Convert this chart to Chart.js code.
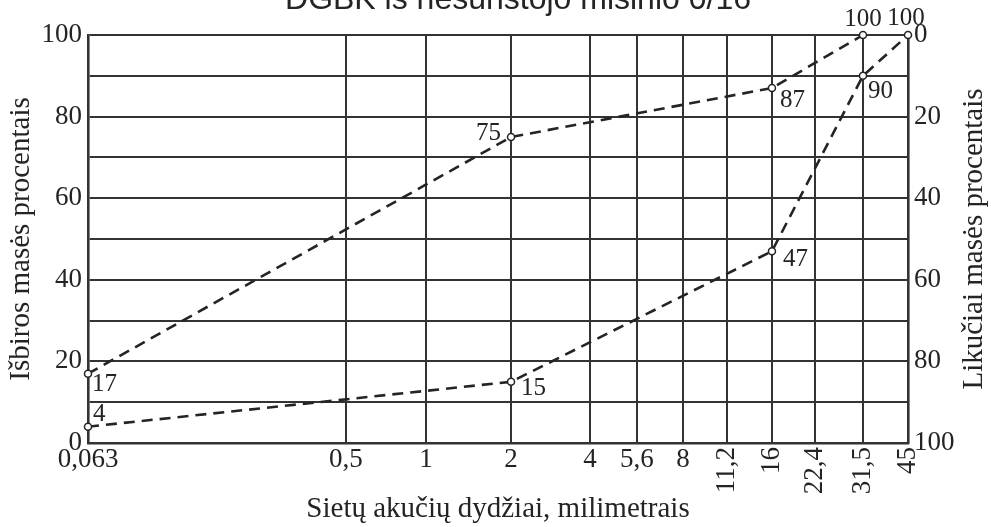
<!DOCTYPE html>
<html>
<head>
<meta charset="utf-8">
<script src="https://cdn.jsdelivr.net/npm/chart.js@4/dist/chart.umd.min.js"></script>
<style>
  html, body { margin: 0; padding: 0; background: #fff; }
  #wrap { width: 991px; height: 527px; position: relative; }
</style>
</head>
<body>
<div id="wrap"><canvas id="grading"></canvas></div>
<script>
const TITLE = 'DGBK iš nesurištojo mišinio 0/16';
const X_TITLE = 'Sietų akučių dydžiai, milimetrais';
const Y_TITLE = 'Išbiros masės procentais';
const Y2_TITLE = 'Likučiai masės procentais';

// sieve sizes (mm) and their printed labels
const SIEVES = [0.063, 0.5, 1, 2, 4, 5.6, 8, 11.2, 16, 22.4, 31.5, 45];
const SIEVE_LABELS = ['0,063', '0,5', '1', '2', '4', '5,6', '8', '11,2', '16', '22,4', '31,5', '45'];

// upper and lower grading curves (% passing)
const UPPER_SIZES = [0.063, 2, 16, 31.5];
const UPPER_PASSING = [17, 75, 87, 100];
const LOWER_SIZES = [0.063, 2, 16, 31.5, 45];
const LOWER_PASSING = [4, 15, 47, 90, 100];

// the printed sieve axis is not a clean log scale: where each sieve sits along it
const SIEVE_AXIS_POS = [0, 0.3146, 0.4122, 0.5159, 0.6122, 0.6695, 0.7256, 0.7793, 0.8341, 0.8866, 0.9451, 1];
const ROTATE_FROM = 7; // labels from 11,2 on are printed vertically

const INK = '#242424';
const GRID = '#333';
const SERIF = '"Liberation Serif", "Times New Roman", serif';

function sieveFraction(v) {
    let i = 0;
    while (i < SIEVES.length - 2 && v > SIEVES[i + 1]) i++;
    const t = Math.log(v / SIEVES[i]) / Math.log(SIEVES[i + 1] / SIEVES[i]);
    return SIEVE_AXIS_POS[i] + t * (SIEVE_AXIS_POS[i + 1] - SIEVE_AXIS_POS[i]);
}

class SieveScale extends Chart.LinearScale {
    buildTicks() {
        return SIEVES.map((value) => ({ value }));
    }
    getPixelForValue(value) {
        return this.getPixelForDecimal(sieveFraction(value));
    }
    getValueForPixel(pixel) {
        const f = this.getDecimalForPixel(pixel);
        let i = 0;
        while (i < SIEVES.length - 2 && f > SIEVE_AXIS_POS[i + 1]) i++;
        const t = (f - SIEVE_AXIS_POS[i]) / (SIEVE_AXIS_POS[i + 1] - SIEVE_AXIS_POS[i]);
        return SIEVES[i] * Math.pow(SIEVES[i + 1] / SIEVES[i], t);
    }
}
SieveScale.id = 'sieve';
SieveScale.defaults = Chart.LinearScale.defaults;
Chart.register(SieveScale);

// label placement next to each point: [dx, dy, align]
const UPPER_LABEL_POS = [[4, 11, 'left'], [-10, -4, 'right'], [8, 12, 'left'], [0, -16, 'center']];
const LOWER_LABEL_POS = [[5, -12, 'left'], [10, 7, 'left'], [11, 8, 'left'], [5, 16, 'left'], [-2, -17, 'center']];

const pairs = (xs, ys) => xs.map((x, i) => ({ x, y: ys[i] }));

const curveStyle = {
    borderColor: INK,
    borderWidth: 2.6,
    borderDash: [11, 7],
    pointRadius: 3.5,
    pointBackgroundColor: '#fff',
    pointBorderColor: INK,
    pointBorderWidth: 1.5,
    tension: 0,
    clip: false,
};

const extras = {
    id: 'extras',
    afterDraw(chart) {
        const { ctx, chartArea } = chart;
        const xs = chart.scales.x;
        ctx.save();
        ctx.fillStyle = INK;

        // title, partly cut off at the top edge like the original
        ctx.font = '32px "Liberation Sans", Arial, sans-serif';
        ctx.textAlign = 'center';
        ctx.textBaseline = 'alphabetic';
        ctx.fillText(TITLE, 518, 9);

        // right axis title reads bottom-to-top
        ctx.save();
        ctx.font = '29px ' + SERIF;
        ctx.translate(974, (chartArea.top + chartArea.bottom) / 2);
        ctx.rotate(-Math.PI / 2);
        ctx.textAlign = 'center';
        ctx.textBaseline = 'middle';
        ctx.fillText(Y2_TITLE, 0, 0);
        ctx.restore();

        // sieve labels, mixed orientation
        ctx.font = '27px ' + SERIF;
        SIEVES.forEach((s, i) => {
            const px = xs.getPixelForValue(s);
            if (i < ROTATE_FROM) {
                ctx.textAlign = 'center';
                ctx.textBaseline = 'top';
                ctx.fillText(SIEVE_LABELS[i], px, chartArea.bottom + 3);
            } else {
                ctx.save();
                ctx.translate(px, chartArea.bottom + 4);
                ctx.rotate(-Math.PI / 2);
                ctx.textAlign = 'right';
                ctx.textBaseline = 'middle';
                ctx.fillText(SIEVE_LABELS[i], 0, 0);
                ctx.restore();
            }
        });

        // point values
        ctx.font = '25px ' + SERIF;
        ctx.textBaseline = 'middle';
        [[UPPER_PASSING, UPPER_LABEL_POS], [LOWER_PASSING, LOWER_LABEL_POS]].forEach(([vals, pos], d) => {
            chart.getDatasetMeta(d).data.forEach((pt, i) => {
                const [dx, dy, align] = pos[i];
                ctx.textAlign = align;
                ctx.fillText(String(vals[i]), pt.x + dx, pt.y + dy);
            });
        });
        ctx.restore();
    },
};

new Chart(document.getElementById('grading'), {
    type: 'line',
    data: {
        datasets: [
            { label: 'upper', data: pairs(UPPER_SIZES, UPPER_PASSING), ...curveStyle },
            { label: 'lower', data: pairs(LOWER_SIZES, LOWER_PASSING), ...curveStyle },
        ],
    },
    options: {
        responsive: true,
        maintainAspectRatio: false,
        animation: false,
        layout: { padding: { top: 35 } },
        plugins: { legend: { display: false }, tooltip: { enabled: false }, title: { display: false } },
        scales: {
            x: {
                type: 'sieve',
                position: 'bottom',
                min: 0.063,
                max: 45,
                grid: { color: GRID, lineWidth: 2, drawTicks: false },
                border: { color: GRID, width: 2.6 },
                ticks: { display: false },
                title: { display: true, text: X_TITLE, color: INK, font: { family: SERIF, size: 29 }, padding: { top: 0, bottom: 0 } },
                afterFit: (s) => { s.height = 84; },
            },
            y: {
                position: 'left',
                min: 0,
                max: 100,
                grid: { color: GRID, lineWidth: 2, drawTicks: false },
                border: { color: GRID, width: 2.6 },
                ticks: {
                    stepSize: 10,
                    padding: 6,
                    color: INK,
                    font: { family: SERIF, size: 27 },
                    callback: (v) => (v % 20 === 0 ? v : ''),
                },
                title: { display: true, text: Y_TITLE, color: INK, font: { family: SERIF, size: 29 }, padding: { top: 4, bottom: 0 } },
                afterFit: (s) => { s.width = 88; },
            },
            y2: {
                position: 'right',
                reverse: true,
                min: 0,
                max: 100,
                grid: { display: false, drawTicks: false },
                border: { color: GRID, width: 2.6 },
                ticks: {
                    stepSize: 10,
                    padding: 6,
                    color: INK,
                    font: { family: SERIF, size: 27 },
                    callback: (v) => (v % 20 === 0 ? v : ''),
                },
                title: { display: false },
                afterFit: (s) => { s.width = 83; },
            },
        },
    },
    plugins: [extras],
});
</script>
</body>
</html>
